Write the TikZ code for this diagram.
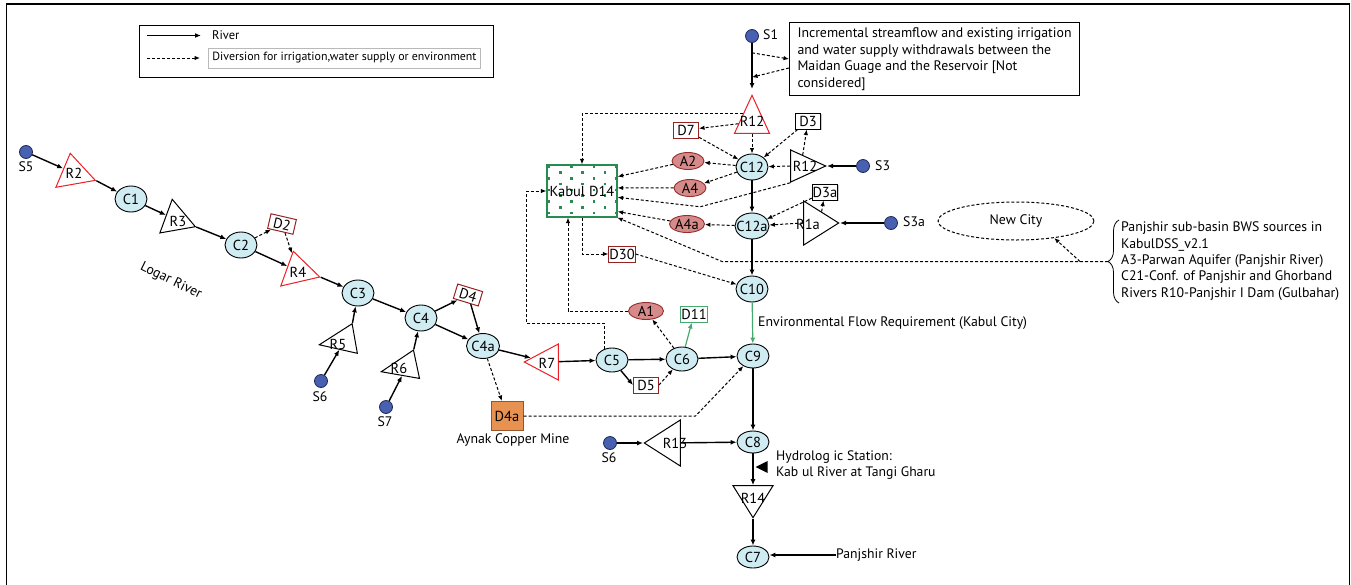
\documentclass[tikz,border=0pt]{standalone}
\usepackage{fontspec}
\setmainfont{PT Sans}
\usetikzlibrary{arrows.meta,shapes.geometric,decorations.pathreplacing,calc,shadows}

\definecolor{cnode}{RGB}{208,236,243}
\definecolor{anode}{RGB}{214,138,138}
\definecolor{aedge}{RGB}{150,45,45}
\definecolor{dedge}{RGB}{150,35,35}
\definecolor{srcfill}{RGB}{72,96,176}
\definecolor{srcedge}{RGB}{30,40,90}
\definecolor{resred}{RGB}{236,32,38}
\definecolor{mine}{RGB}{232,146,82}
\definecolor{mineedge}{RGB}{150,85,45}
\definecolor{demgreen}{RGB}{40,140,80}
\definecolor{flowgreen}{RGB}{70,170,110}

% label that does not widen its node
\newcommand{\nlab}[1]{\makebox[0pt]{#1}}

\begin{document}
\begin{tikzpicture}[x=1pt,y=-1pt,
  lab/.style={font=\fontsize{14.5}{16}\selectfont},
  txt/.style={font=\fontsize{13.8}{16.5}\selectfont},
  conf/.style={ellipse, draw, fill=cnode, line width=0.9pt, minimum width=32pt, minimum height=26pt, inner sep=0pt, lab},
  aq/.style={ellipse, draw=aedge, fill=anode, line width=0.9pt, minimum width=32pt, minimum height=17pt, inner sep=0pt, lab},
  dem/.style={rectangle, draw=dedge, fill=white, line width=1pt, minimum width=25pt, minimum height=16pt, inner sep=0.5pt, lab},
  src/.style={circle, draw=srcedge, fill=srcfill, line width=0.8pt, minimum size=13pt, inner sep=0pt},
  res/.style={isosceles triangle, isosceles triangle stretches=true, draw, fill=white, line width=1pt, inner sep=0pt, anchor=apex},
  rres/.style={res, draw=resred},
  riv/.style={line width=1.4pt, -{Latex[length=6pt,width=5pt]}},
  div/.style={line width=1pt, dash pattern=on 3pt off 2pt, -{Latex[length=5.5pt,width=4.5pt]}},
  grn/.style={line width=1.2pt, draw=flowgreen, -{Latex[length=6pt,width=5pt]}},
]
\useasboundingbox (0,0) rectangle (1351,584);
% outer frame
\draw[line width=1.4pt] (6.5,600) -- (6.5,4) -- (1349.5,4) -- (1349.5,600);

% legend
\node[draw, line width=0.9pt, minimum width=354pt, minimum height=52pt, inner sep=0pt] (legend) at (316,51) {};
\node[anchor=west, inner sep=0pt, font=\fontsize{12.5}{13}\selectfont] (legRiv) at (212,35.5) {River};
\node[draw=gray!55, line width=0.9pt, anchor=west, minimum height=20pt, inner xsep=4pt, inner ysep=2pt, font=\fontsize{11.9}{13}\selectfont] (legDiv) at (208,58) {Diversion for irrigation,water supply or environment};
\draw[riv] ([xshift=-65pt]legRiv.west) -- ([xshift=-11pt]legRiv.west);
\draw[div] ([xshift=-61pt]legDiv.west) -- ([xshift=-8pt]legDiv.west);

% reservoirs (for upright ones the width is the base)
\node[rres, rotate=100, minimum width=40pt, minimum height=31pt] (R2) at (70,152) {};
\node[res, rotate=100, minimum width=36pt, minimum height=31pt] (R3) at (172,198) {};
\node[rres, rotate=103, minimum width=40pt, minimum height=31pt] (R4) at (293,250) {};
\node[res, rotate=190, minimum width=30pt, minimum height=36pt] (R5) at (318,345) {};
\node[res, rotate=192, minimum width=29pt, minimum height=36pt] (R6) at (380,372) {};
\node[rres, rotate=180, minimum width=36pt, minimum height=34pt] (R7) at (523,362) {};
\node[rres, rotate=90, minimum width=35pt, minimum height=38pt] (R12) at (752,94) {};
\node[res, minimum width=32pt, minimum height=35pt] (R12r) at (827,166) {};
\node[res, minimum width=44pt, minimum height=35pt] (R1a) at (840,223) {};
\node[res, rotate=180, minimum width=46pt, minimum height=36pt] (R13) at (643,443) {};
\node[res, rotate=-90, minimum width=40pt, minimum height=32pt] (R14) at (753,519) {};
\node[lab] (R2t) at (74,173) {R2};
\node[lab] (R3t) at (178,221) {R3};
\node[lab] (R4t) at (298,272) {R4};
\node[lab] (R5t) at (338,344) {R5};
\node[lab] (R6t) at (399,368) {R6};
\node[lab] (R7t) at (547,363) {R7};
\node[lab] (R12t) at (752,121) {R12};
\node[lab] (R12rt) at (805,166) {R12};
\node[lab] (R1at) at (808,224) {R1a};
\node[lab] (R13t) at (675,443) {R13};
\node[lab] (R14t) at (753,498) {R14};

% confluences
\node[conf] (C1) at (131,199) {\nlab{C1}};
\node[conf] (C2) at (241,245) {\nlab{C2}};
\node[conf] (C3) at (358,293) {\nlab{C3}};
\node[conf] (C4) at (421,318) {\nlab{C4}};
\node[conf, minimum width=33pt, minimum height=25pt] (C4a) at (483,346) {\nlab{C4a}};
\node[conf, minimum height=24pt] (C5) at (612,360) {\nlab{C5}};
\node[conf, minimum height=24pt] (C6) at (682,359) {\nlab{C6}};
\node[conf, minimum height=24pt] (C9) at (753,356) {\nlab{C9}};
\node[conf, minimum height=22pt] (C8) at (753,442) {\nlab{C8}};
\node[conf, minimum height=22pt] (C7) at (753,557) {\nlab{C7}};
\node[conf] (C10) at (752,289) {\nlab{C10}};
\node[conf] (C12) at (752,167) {\nlab{C12}};
\node[conf, minimum width=34pt] (C12a) at (752,226) {\nlab{C12a}};

% aquifers
\node[aq] (A2) at (688,161) {\nlab{A2}};
\node[aq] (A4) at (690,188) {\nlab{A4}};
\node[aq, minimum width=35pt] (A4a) at (687,224) {\nlab{A4a}};
\node[aq, minimum width=35pt] (A1) at (646,311) {\nlab{A1}};

% demands
\node[dem, rotate=-13, minimum width=26pt, minimum height=15pt] (D2) at (282,224) {D2};
\node[dem, rotate=-17, minimum width=26pt, minimum height=15pt] (D4) at (468,295) {D4};
\node[dem] (D7) at (686,130) {D7};
\node[dem, draw=black, drop shadow={shadow xshift=1.2pt, shadow yshift=-1.2pt, fill=gray!80}] (D3) at (808,121) {D3};
\node[dem, draw=black, drop shadow={shadow xshift=1.2pt, shadow yshift=-1.2pt, fill=gray!80}] (D3a) at (825,192) {D3a};
\node[dem] (D30) at (622,254) {D30};
\node[dem] (D5) at (646,385) {D5};
\node[dem, draw=flowgreen] (D11) at (694,314) {D11};
\node[draw=mineedge, fill=mine, line width=1pt, minimum width=32pt, minimum height=29pt, inner sep=0pt, lab] (D4a) at (507,416) {D4a};
\node[txt] (mine) at (513,440) {Aynak Copper Mine};

% Kabul city demand
\node[draw=demgreen, line width=1.2pt, minimum width=70pt, minimum height=52pt, inner sep=0pt] (D14) at (582,191) {};
\foreach \row in {0,...,8}{
  \foreach \col in {0,...,3}{
    \pgfmathsetmacro{\dx}{549+22.4*\col+11.2*mod(\row,2)}
    \pgfmathsetmacro{\dy}{166.7+5.8*\row}
    \ifdim\dx pt<618pt \fill[demgreen] (\dx-1.3,\dy-1.3) rectangle ++(2.6,2.6);\fi
  }
}
\node[lab] (D14t) at (582,191) {Kabul D14};

% sources
\node[src] (S5) at (26,152) {};
\node[txt] (S5t) at (26,167) {S5};
\node[src] (S6a) at (321,381) {};
\node[txt] (S6at) at (320,397) {S6};
\node[src] (S7) at (386,407) {};
\node[txt] (S7t) at (385,422) {S7};
\node[src] (S1) at (752,36) {};
\node[txt, anchor=west, inner sep=0pt] (S1t) at (763,35) {S1};
\node[src] (S3) at (863,166) {};
\node[txt, anchor=west, inner sep=0pt] (S3t) at (875,166) {S3};
\node[src] (S3a) at (891,223) {};
\node[txt, anchor=west, inner sep=0pt] (S3at) at (903,222) {S3a};
\node[src] (S6b) at (610,443) {};
\node[txt] (S6bt) at (609,458) {S6};

% notes
\node[draw, line width=1pt, txt, align=left, anchor=north west, inner xsep=8pt, inner ysep=0pt, minimum height=73pt] (Incr) at (789,22) {Incremental streamflow and existing irrigation\\and water supply withdrawals between the\\Maidan Guage and the Reservoir [Not\\considered]};
\node[ellipse, draw, line width=1pt, dash pattern=on 3pt off 2pt, minimum width=156pt, minimum height=38pt, txt] (NewCity) at (1016,221) {New City};
\node[anchor=west, align=left, inner sep=0pt, font=\fontsize{13.8}{16.3}\selectfont] (BWS) at (1121,261) {Panjshir sub-basin BWS sources in\\KabulDSS\_v2.1\\A3-Parwan Aquifer (Panjshir River)\\C21-Conf. of Panjshir and Ghorband\\Rivers R10-Panjshir I Dam (Gulbahar)};
\draw[line width=0.8pt, decorate, decoration={brace, amplitude=11pt}] (1119,303) -- (1119,220);
\coordinate (brtip) at (1108,261.5);
\node[txt, anchor=west, inner sep=0pt] (EFR) at (758,323) {Environmental Flow Requirement (Kabul City)};
\node[anchor=west, align=left, inner sep=0pt, font=\fontsize{13.7}{16}\selectfont] (Hyd) at (776,465) {Hydrolog ic Station:\\Kab ul River at Tangi Gharu};
\node[isosceles triangle, isosceles triangle stretches=true, fill=black, rotate=180, minimum width=12pt, minimum height=12pt, inner sep=0pt] (hsmark) at (764,467) {};
\node[anchor=west, inner sep=0pt, font=\fontsize{13.7}{15}\selectfont] (PR) at (836,555) {Panjshir River};
\node[txt, rotate=-26] (Logar) at (171,281) {Logar River};

% Logar river chain
\draw[riv] (S5) -- (R2);
\draw[riv] (R2.right corner) -- (C1);
\draw[riv] (C1) -- (R3);
\draw[riv] (R3.right corner) -- (C2);
\draw[riv] (C2) -- (R4);
\draw[div] (C2) -- (D2);
\draw[div] (D2) -- (R4);
\draw[riv] (R4.right corner) -- (C3);
\draw[riv] (S6a) -- (R5);
\draw[riv] (R5.right corner) -- (C3);
\draw[riv] (S7) -- (R6);
\draw[riv] (R6.right corner) -- (C4);
\draw[riv] (C3) -- (C4);
\draw[riv] (C4) -- (D4);
\draw[riv] (C4) -- (C4a);
\draw[riv] (D4) -- (C4a);
\draw[div] (C4a) -- (D4a);
\draw[riv] (C4a) -- (R7);
\draw[riv] (R7) -- (C5);

% Kabul river
\draw[riv] (C5) -- (C6);
\draw[riv] (C5) -- (D5.west);
\draw[div] (D5.east) -- (C6);
\draw[riv] (C6) -- (C9);
\draw[div] (C6) -- (A1);
\draw[grn] (C6) -- (D11);
\draw[div] (A1.west) -| ([xshift=-14pt]D14.south);
\draw[div] (C5.125) -- ++(0,-26) -| ([xshift=-20pt]D14.west) -- (D14.west);
\draw[div] (D4a.east) -- ++(172,0) -- (C9);
\draw[grn] (C10) -- (C9);
\draw[riv] (C9) -- (C8);
\draw[riv] (S6b) -- (R13);
\draw[riv] (R13) -- (C8);
\draw[riv] (C8) -- (R14);
\draw[riv] (R14.apex) -- (C7);
\draw[riv] (PR.west) -- (C7.east |- PR.west);

% upper Kabul and Panjshir side
\draw[riv] (S1) -- ([yshift=5pt]R12.apex);
\coordinate (s1a) at ($(S1)!0.29!(R12.apex)$);
\coordinate (s1b) at ($(S1)!0.71!(R12.apex)$);
\draw[div] (s1a) -- (Incr.west);
\draw[div] ([yshift=-9pt]Incr.west) -- (s1b);
\draw[div] (R12.left side) -| (D14.north);
\draw[div] (R12) -- (D7);
\draw[div] (R12) -- (C12);
\draw[div] (D7) -- (C12);
\draw[div] (D3) -- (C12);
\draw[div] (R12r) -- (D3);
\draw[div] (R12r.lower side) -- (C12);
\draw[riv] (S3) -- (R12r.apex);
\draw[div] (C12) -- (A2);
\draw[div] (C12) -- (A4);
\draw[div] (A2) -- (D14.22);
\draw[div] (A4) -- (D14.5);
\draw[div] (R12r.right corner) -- ++(-90,24) -- (D14.-10);
\draw[riv] (C12) -- (C12a);
\draw[div] (D3a) -- (C12a);
\draw[div] (R1a.left side) -- (D3a);
\draw[div] (R1a.lower side) -- (C12a);
\draw[riv] (S3a) -- (R1a.apex);
\draw[div] (C12a) -- (A4a);
\draw[div] (A4a) -- (D14.-30);
\draw[riv] (C12a) -- (C10);
\draw[div] (D14.south) |- (D30.west);
\draw[div] (D30.east) -- (C10);
\draw[div] (brtip) -- ++(-386,0) -- (D14.-37);
\coordinate (ncfoot) at ($(brtip)+(-28,0)$);
\draw[div] (ncfoot) -- (NewCity.-24);
\end{tikzpicture}
\end{document}
